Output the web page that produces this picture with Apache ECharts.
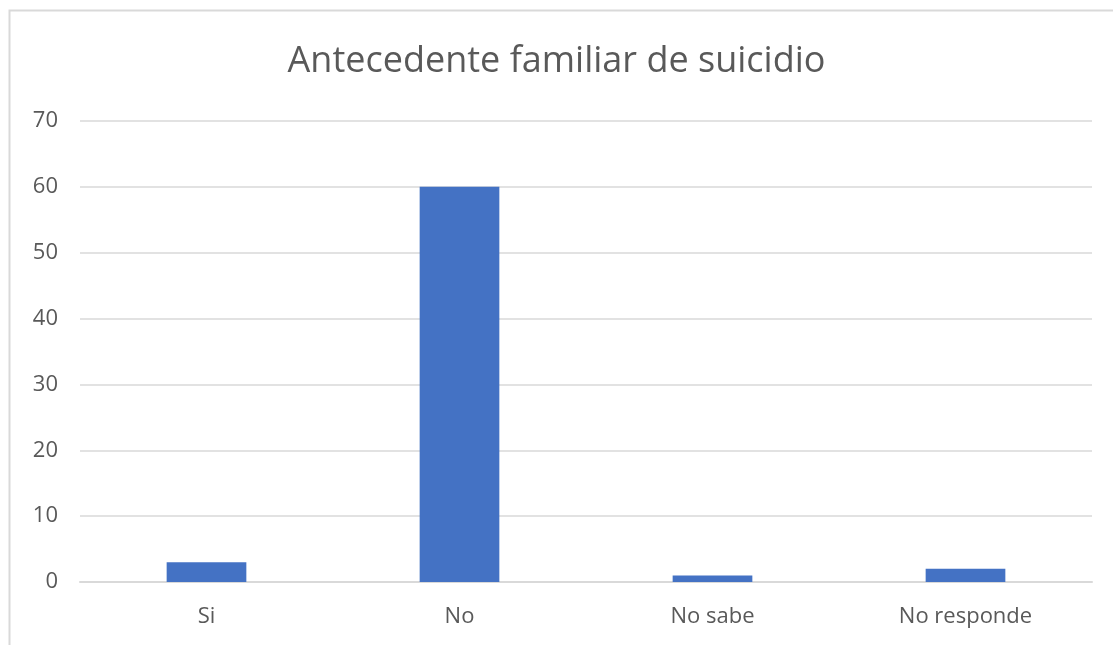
<!DOCTYPE html>
<html>
<head>
<meta charset="utf-8">
<script src="https://cdn.jsdelivr.net/npm/echarts@6/dist/echarts.min.js"></script>
<style>
  html, body { margin: 0; padding: 0; background: #fff; }
  #chart { width: 1113px; height: 645px; }
</style>
</head>
<body>
<div id="chart"></div>
<script>
// Antecedente familiar de suicidio: respuestas por categoría
const categories = ['Si', 'No', 'No sabe', 'No responde'];
const values = [3, 60, 1, 2];
const yTicks = { min: 0, max: 70, interval: 10 };

const chart = echarts.init(document.getElementById('chart'));
chart.setOption({
  backgroundColor: '#ffffff',
  animation: false,
  title: {
    text: 'Antecedente familiar de suicidio',
    left: 'center',
    top: 39,
    textStyle: { fontFamily: 'Open Sans', fontSize: 36, fontWeight: 'normal', color: '#595959' }
  },
  graphic: [{
    type: 'rect',
    shape: { x: 9.5, y: 10.5, width: 1120, height: 660 },
    style: { fill: 'none', stroke: '#d9d9d9', lineWidth: 2 },
    silent: true
  }],
  grid: { left: 80, right: 21, top: 121, bottom: 63 },
  xAxis: {
    type: 'category',
    data: categories,
    axisLine: { show: true, lineStyle: { color: '#d9d9d9', width: 2 } },
    axisTick: { show: false },
    axisLabel: { fontFamily: 'Open Sans', fontSize: 22, color: '#595959', margin: 24 }
  },
  yAxis: {
    type: 'value',
    min: yTicks.min,
    max: yTicks.max,
    interval: yTicks.interval,
    axisLine: { show: false },
    axisTick: { show: false },
    splitLine: { lineStyle: { color: '#d9d9d9', width: 1.5 } },
    axisLabel: { fontFamily: 'Open Sans', fontSize: 22, color: '#595959', margin: 22 }
  },
  series: [{
    type: 'bar',
    data: values,
    barWidth: '31.5%',
    itemStyle: { color: '#4472c4' }
  }]
});
</script>
</body>
</html>
